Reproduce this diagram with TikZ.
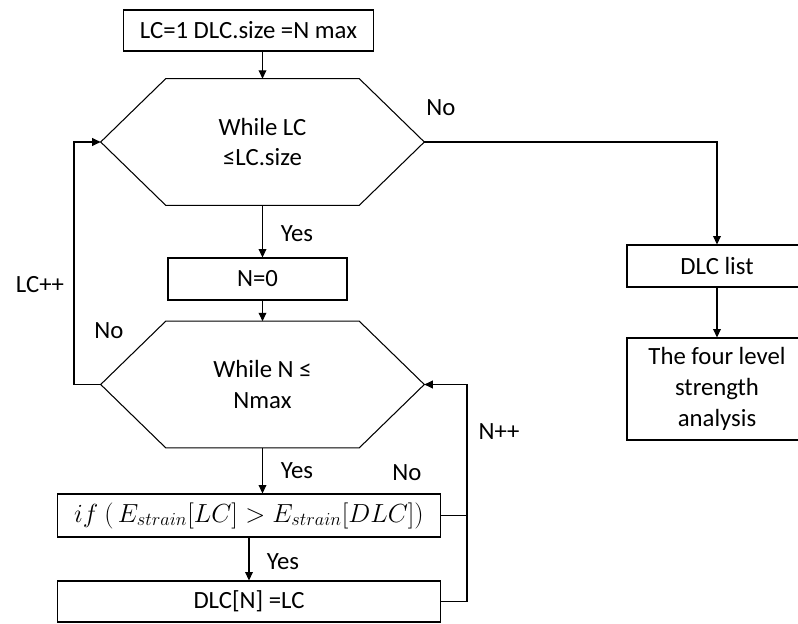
\RequirePackage{fix-cm}
\documentclass[tikz,border=0pt]{standalone}
\usepackage{fontspec}
\setmainfont{Carlito}
\usetikzlibrary{arrows.meta}
\begin{document}
\begin{tikzpicture}[x=0.025cm,y=-0.025cm,
  font=\fontsize{17.6}{22}\selectfont,
  box/.style={draw,line width=0.75pt,rectangle,inner sep=0pt,align=center},
  loopbox/.style={rectangle,minimum width=8.075cm,minimum height=3.15cm,inner sep=0pt,align=center},
  edgeline/.style={line width=0.75pt},
  flow/.style={draw,line width=0.75pt,-{Triangle[length=6pt,width=5.5pt]}},
  wire/.style={draw,line width=0.75pt,-},
  tag/.style={inner sep=0pt}]
\useasboundingbox (0,0) rectangle (798,624);
\clip (0,0) rectangle (798,624);
\node[box,minimum width=6.225cm,minimum height=1.025cm] (init) at (248.5,30.5) {LC=1 DLC.size =N max};
\node[loopbox] (lc) at (262.5,142) {While LC\\≤LC.size};
\node[box,minimum width=4.475cm,minimum height=1.05cm] (n0) at (257.5,279) {N=0};
\node[loopbox] (nn) at (262.5,384.5) {While N ≤\\Nmax};
\node[box,minimum width=9.575cm,minimum height=1.075cm,font=\fontsize{18.6}{22}\selectfont] (chk) at (249,515.5) {$if\ (\,E_{strain}[LC] > E_{strain}[DLC])$};
\node[box,minimum width=9.575cm,minimum height=1.025cm] (set) at (249,601.5) {DLC[N] =LC};
\node[box,minimum width=4.5cm,minimum height=1.05cm] (list) at (717,266) {DLC list};
\node[box,minimum width=4.5cm,minimum height=2.55cm] (ana) at (717,389) {The four level\\strength\\analysis};
\coordinate (ret1) at (74,0);
\coordinate (ret2) at (467,0);

% hexagon outlines of the two loops
\foreach \h in {lc,nn}
  \draw[edgeline] (\h.west) -- ([xshift=1.625cm]\h.north west) -- ([xshift=-1.625cm]\h.north east)
    -- (\h.east) -- ([xshift=-1.625cm]\h.south east) -- ([xshift=1.625cm]\h.south west) -- cycle;

\path[flow] (lc.north |- init.south) -- (lc.north);
\path[flow] (lc.south) -- (lc.south |- n0.north);
\path[flow] (lc.south |- n0.south) -- (nn.north);
\path[flow] (nn.south) -- (nn.south |- chk.north);
\path[flow] (chk.south) -- (set.north);
\path[flow] (lc.east) -- (lc.east -| list.north) -- (list.north);
\path[flow] (list) -- (ana);
\path[flow] (nn.west) -- (nn.west -| ret1) -- (lc.west -| ret1) -- (lc.west);
\path[wire] (chk.east) -- (chk.east -| ret2);
\path[flow] (set.east) -- (set.east -| ret2) -- (nn.east -| ret2) -- (nn.east);

\node[tag] (no1) at (441,108) {No};
\node[tag] (yes1) at (297,234) {Yes};
\node[tag] (inc1) at (40,285) {LC++};
\node[tag] (no2) at (109,331) {No};
\node[tag] (inc2) at (499,432) {N++};
\node[tag] (yes2) at (297,471) {Yes};
\node[tag] (no3) at (407,473) {No};
\node[tag] (yes3) at (283,562) {Yes};
\end{tikzpicture}
\end{document}
